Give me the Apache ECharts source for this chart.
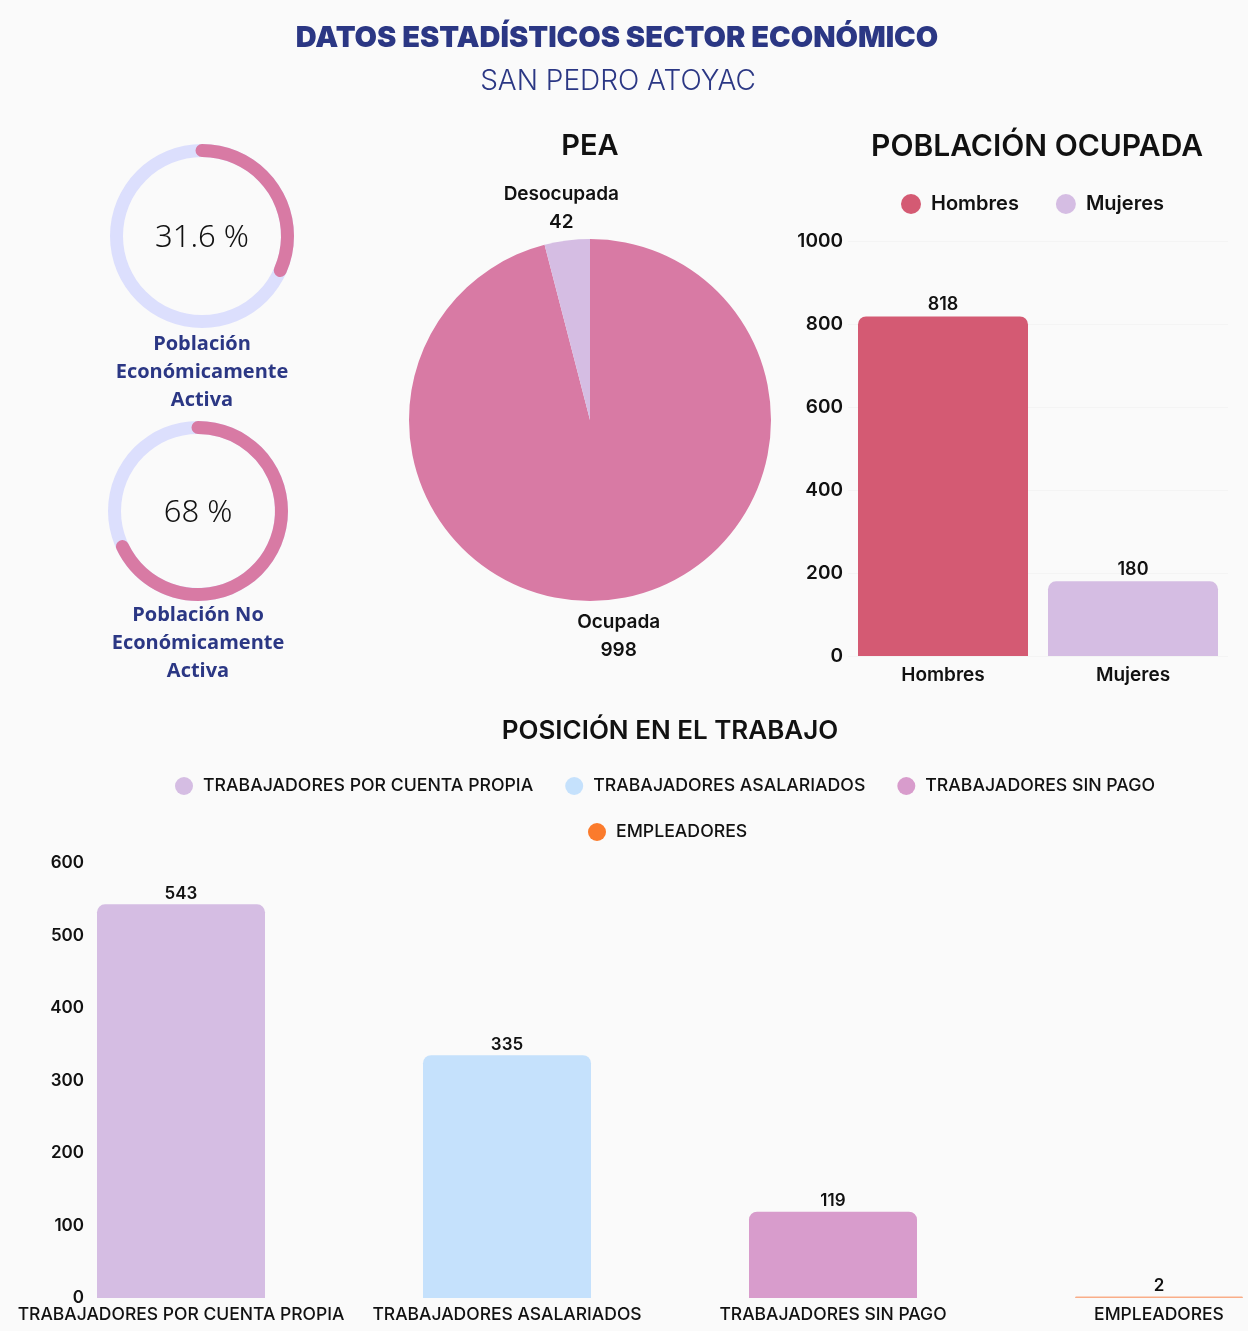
<!DOCTYPE html>
<html>
<head>
<meta charset="utf-8">
<script src="https://cdn.jsdelivr.net/npm/echarts@6/dist/echarts.min.js"></script>
<style>
  html, body { margin: 0; padding: 0; background: #fafafa; }
  #main { width: 1248px; height: 1331px; }
</style>
</head>
<body>
<div id="main"></div>
<script>
// donuts
const peaActiva = 31.6;
const peaNoActiva = 68;
const donutLabels = ['Población\nEconómicamente\nActiva', 'Población No\nEconómicamente\nActiva'];

// PEA pie
const peaNames = ['Ocupada', 'Desocupada'];
const peaValues = [998, 42];

// poblacion ocupada
const sexo = ['Hombres', 'Mujeres'];
const sexoValues = [818, 180];

// posicion en el trabajo
const posiciones = ['TRABAJADORES POR CUENTA PROPIA', 'TRABAJADORES ASALARIADOS', 'TRABAJADORES SIN PAGO', 'EMPLEADORES'];
const posicionValues = [543, 335, 119, 2];
const posicionColors = ['#d5bde3', '#c5e1fc', '#d89ccc', '#f9ad88'];

const ink = '#111111';
const navy = '#2b3784';
const font = 'Inter';

const chart = echarts.init(document.getElementById('main'));

function donut(center, radius, value) {
    return {
        type: 'gauge',
        center: center,
        radius: radius,
        startAngle: 90,
        endAngle: -270,
        min: 0,
        max: 100,
        pointer: { show: false },
        progress: { show: true, roundCap: true, width: 13, itemStyle: { color: '#d87aa4' } },
        axisLine: { lineStyle: { width: 13, color: [[1, '#dcdffd']] } },
        splitLine: { show: false },
        axisTick: { show: false },
        axisLabel: { show: false },
        title: { show: false },
        detail: {
            offsetCenter: [0, 2],
            formatter: '{value} %',
            fontSize: 31,
            fontWeight: 300,
            fontFamily: 'Noto Sans',
            color: ink
        },
        data: [{ value: value }]
    };
}

function donutText(x, y, text) {
    return {
        type: 'text', x: x, y: y,
        style: {
            text: text, align: 'center', verticalAlign: 'top',
            fontFamily: 'Open Sans', fontWeight: 700, fontSize: 20, lineHeight: 28, fill: navy
        }
    };
}

const catAxisBase = {
    axisLine: { show: false },
    axisTick: { show: false }
};

function heading(text, x, y, size, weight, color) {
    return { text: text, left: x, textAlign: 'center', top: y, padding: 0,
             textStyle: { fontFamily: font, fontWeight: weight, fontSize: size, color: color } };
}

const option = {
    backgroundColor: '#fafafa',
    title: [
        heading('DATOS ESTADÍSTICOS SECTOR ECONÓMICO', 617, 24, 29, 900, navy),
        heading('SAN PEDRO ATOYAC', 618, 68, 28, 300, navy),
        heading('PEA', 590, 132, 29, 600, ink),
        heading('POBLACIÓN OCUPADA', 1037, 132, 30, 600, ink),
        heading('POSICIÓN EN EL TRABAJO', 670, 718, 26, 600, ink)
    ],
    legend: [
        { data: sexo, left: 896, top: 189, icon: 'circle', itemWidth: 30, itemHeight: 20, itemGap: 37,
          textStyle: { fontFamily: font, fontWeight: 600, fontSize: 20, color: ink } },
        { data: posiciones.slice(0, 3), left: 170, top: 772, icon: 'circle', itemWidth: 28, itemHeight: 18, itemGap: 32,
          textStyle: { fontFamily: font, fontWeight: 500, fontSize: 17.7, color: ink } },
        { data: [{ name: posiciones[3], itemStyle: { color: '#fb7b2c' } }], left: 583, top: 818, icon: 'circle',
          itemWidth: 28, itemHeight: 18,
          textStyle: { fontFamily: font, fontWeight: 500, fontSize: 17.7, color: ink } }
    ],
    grid: [
        { left: 848, right: 20, top: 241, bottom: 675, outerBoundsMode: 'none' },
        { left: 18, width: 1304, top: 863, bottom: 33, outerBoundsMode: 'none' }
    ],
    xAxis: [
        Object.assign({ type: 'category', gridIndex: 0, data: sexo,
            axisLabel: { fontFamily: font, fontWeight: 600, fontSize: 19, color: ink, margin: 10 } }, catAxisBase),
        Object.assign({ type: 'category', gridIndex: 1, data: posiciones,
            axisLabel: { fontFamily: font, fontWeight: 500, fontSize: 17.5, color: ink, margin: 8, interval: 0 } }, catAxisBase)
    ],
    yAxis: [
        { type: 'value', gridIndex: 0, min: 0, max: 1000, interval: 200,
          axisLabel: { fontFamily: font, fontWeight: 600, fontSize: 19, color: ink, margin: 5, formatter: v => String(v) },
          splitLine: { lineStyle: { color: '#f4f4f4' } } },
        { type: 'value', gridIndex: 1, min: 0, max: 600, interval: 100,
          axisLabel: { fontFamily: font, fontWeight: 600, fontSize: 17, color: ink, margin: -66 },
          splitLine: { show: false } }
    ],
    graphic: [
        donutText(202, 330, donutLabels[0]),
        donutText(198, 601, donutLabels[1])
    ],
    series: [
        donut([202, 236], 92, peaActiva),
        donut([198, 511], 90, peaNoActiva),
        {
            type: 'pie',
            center: [590, 420],
            radius: 181,
            startAngle: 90,
            clockwise: true,
            silent: true,
            label: {
                position: 'outside',
                formatter: '{b}\n{c}',
                fontFamily: font,
                fontWeight: 600,
                fontSize: 19,
                lineHeight: 28,
                color: ink,
                alignTo: 'none'
            },
            labelLine: { show: false, length: 6, length2: 0 },
            labelLayout: function (p) {
                return p.dataIndex === 1
                    ? { align: 'center', verticalAlign: 'bottom', dy: 2 }
                    : { align: 'center', verticalAlign: 'top', dy: 3 };
            },
            data: peaNames.map((n, i) => ({
                name: n, value: peaValues[i],
                itemStyle: { color: ['#d87aa4', '#d5bde3'][i] }
            }))
        }
    ]
};

sexo.forEach((name, i) => {
    const data = sexo.map((s, j) => (j === i ? sexoValues[i] : '-'));
    option.series.push({
        type: 'bar', name: name, xAxisIndex: 0, yAxisIndex: 0, stack: 'po',
        barWidth: 170,
        itemStyle: { color: ['#d45a73', '#d5bde3'][i], borderRadius: [8, 8, 0, 0] },
        label: { show: true, position: 'top', distance: 3, fontFamily: font, fontWeight: 600, fontSize: 18, color: ink },
        data: data
    });
});

posiciones.forEach((name, i) => {
    const data = posiciones.map((s, j) => (j === i ? posicionValues[i] : '-'));
    option.series.push({
        type: 'bar', name: name, xAxisIndex: 1, yAxisIndex: 1, stack: 'pt',
        barWidth: 168,
        itemStyle: { color: posicionColors[i], borderRadius: [8, 8, 0, 0] },
        label: { show: true, position: 'top', distance: 2, fontFamily: font, fontWeight: 600, fontSize: 17, color: ink },
        data: data
    });
});

chart.setOption(option);
</script>
</body>
</html>
